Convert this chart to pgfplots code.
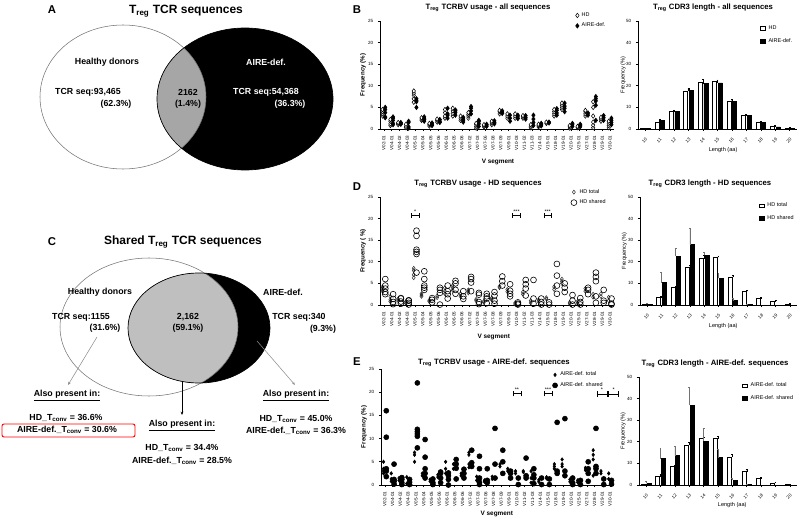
\documentclass[border=0pt]{standalone}
\usepackage{fontspec}
\setmainfont{Liberation Sans}
\usepackage{pgfplots}
\pgfplotsset{compat=1.18}
\usetikzlibrary{arrows.meta}
\newcommand{\fs}[1]{\fontsize{#1}{#1}\selectfont}
\pgfplotsset{
  common/.style={scale only axis, clip=false,
    axis x line*=bottom, axis y line*=left, axis line style={line width=0.6pt,-},
    tick align=outside, major tick length=1.6pt, tick style={black,line width=0.45pt},
    /pgf/number format/assume math mode=true,
    tick label style={font=\fs{3.4}}, ymin=0},
  scat/.style={common, width=175.5pt, height=81pt, xmin=-0.5, xmax=29.5, ymax=25,
    ytick={0,5,...,25}, xtick={0,...,29},
    xticklabels={V02-01,V04-01,V04-02,V04-03,V05-01,V05-04,V05-05,V05-06,V06-01,V06-05,V06-06,V07-02,V07-03,V07-06,V07-08,V07-09,V09-01,V10-03,V11-02,V11-03,V14-01,V15-01,V18-01,V19-01,V20-01,V25-01,V27-01,V28-01,V29-01,V30-01},
    xticklabel style={rotate=90, anchor=east, font=\fs{3.4}},
    ylabel style={font=\bfseries\fs{4.6}, anchor=center},
    xlabel style={font=\bfseries\fs{4.8}, anchor=center},
    legend style={draw=none, fill=none, font=\fs{4.1}, inner sep=0pt, row sep=-0.6pt, cells={anchor=west}},
    legend image code/.code={\draw[mark repeat=2,mark phase=2,##1] plot coordinates {(0cm,0cm)(0.1cm,0cm)(0.2cm,0cm)};}},
  barax/.style={common, height=81pt, xmin=9.5, xmax=20.5, ymax=50,
    ytick={0,10,...,50}, xtick={10,...,20},
    xticklabel style={rotate=45, anchor=north east, font=\fs{3.4}},
    ylabel style={font=\fs{4.2}, anchor=center}, xlabel style={font=\fs{4.2}, anchor=center},
    legend style={draw=none, fill=none, font=\fs{4.1}, inner sep=0pt, row sep=1.2pt, cells={anchor=west}},
    legend image code/.code={\draw[##1] (0pt,-1.3pt) rectangle (4pt,1.3pt);}},
  hdbar/.style={ybar, bar width=3pt, bar shift=-2.1pt, fill=white, draw=black, line width=0.5pt,
    error bars/y dir=plus, error bars/y explicit, error bars/error bar style={line width=0.35pt, black},
    error bars/error mark options={rotate=90, mark size=0.7pt, line width=0.35pt}},
  shbar/.style={ybar, bar width=3pt, bar shift=2.1pt, fill=black, draw=black, line width=0.5pt,
    error bars/y dir=plus, error bars/y explicit, error bars/error bar style={line width=0.35pt, black!55},
    error bars/error mark options={rotate=90, mark size=0.7pt, line width=0.35pt, black!55}},
  aibar/.style={ybar, bar width=3pt, bar shift=2.1pt, fill=black, draw=black, line width=0.5pt,
    error bars/y dir=plus, error bars/y explicit, error bars/error bar style={line width=0.35pt, black},
    error bars/error mark options={rotate=90, mark size=0.7pt, line width=0.35pt, black}},
}
\begin{document}
\begin{tikzpicture}
\useasboundingbox (0pt,0pt) rectangle (600pt,390.75pt);

% ---------------- overlay: Venn diagrams, titles, letters -----------------
\begin{axis}[at={(0pt,0pt)}, anchor=south west, scale only axis, width=600pt, height=390.75pt,
  xmin=0, xmax=800, ymin=0, ymax=521, y dir=reverse, hide axis, clip=false]
% Venn A
\fill[black] (axis cs:245,99) ellipse[x radius=66pt, y radius=53.25pt];
\begin{scope}
\clip (axis cs:123,97) ellipse[x radius=62.25pt, y radius=54pt];
\fill[black!35] (axis cs:245,99) ellipse[x radius=66pt, y radius=53.25pt];
\end{scope}
\draw[black!55, line width=0.4pt] (axis cs:123,97) ellipse[x radius=62.25pt, y radius=54pt];
\draw[black, line width=0.5pt] (axis cs:245,99) ellipse[x radius=66pt, y radius=53.25pt];
% Venn C
\fill[black] (axis cs:199,328) ellipse[x radius=53.25pt, y radius=41.25pt];
\begin{scope}
\clip (axis cs:149,327) ellipse[x radius=66.75pt, y radius=51.75pt];
\fill[black!25] (axis cs:199,328) ellipse[x radius=53.25pt, y radius=41.25pt];
\end{scope}
\draw[black!55, line width=0.4pt] (axis cs:149,327) ellipse[x radius=66.75pt, y radius=51.75pt];
\draw[black, line width=0.5pt] (axis cs:199,328) ellipse[x radius=53.25pt, y radius=41.25pt];

\begin{scope}[every node/.style={font=\bfseries\fs{6.6}, inner sep=0pt}]
\node at (axis cs:52,10) {\fs{8.5}A};
\node at (axis cs:186,11) {\fs{9}T\textsubscript{reg} TCR sequences};
\node at (axis cs:107,62) {Healthy donors};
\node at (axis cs:88,92) {TCR seq:93,465};
\node at (axis cs:116,104) {(62.3\%)};
\node at (axis cs:188,92) {2162};
\node at (axis cs:188,104) {(1.4\%)};
\node[white] at (axis cs:266,62) {AIRE-def.};
\node[white] at (axis cs:266,92) {TCR seq:54,368};
\node[white] at (axis cs:290,104) {(36.3\%)};

\node at (axis cs:52,242) {\fs{8.5}C};
\node at (axis cs:183,242) {\fs{9}Shared T\textsubscript{reg} TCR sequences};
\node at (axis cs:100,292) {Healthy donors};
\node at (axis cs:81,317) {TCR seq:1155};
\node at (axis cs:105,328) {(31.6\%)};
\node at (axis cs:188,317) {2,162};
\node at (axis cs:188,328) {(59.1\%)};
\node at (axis cs:283,292) {AIRE-def.};
\node at (axis cs:299,317) {TCR seq:340};
\node at (axis cs:323,329) {(9.3\%)};

\node at (axis cs:67,396) {\underline{Also present in:}};
\node at (axis cs:66,418) {HD\_T\textsubscript{conv} = 36.6\%};
\node at (axis cs:67,430) {AIRE-def.\_T\textsubscript{conv} = 30.6\%};
\node at (axis cs:182,426) {\underline{Also present in:}};
\node at (axis cs:182,448) {HD\_T\textsubscript{conv} = 34.4\%};
\node at (axis cs:182,461) {AIRE-def.\_T\textsubscript{conv} = 28.5\%};
\node at (axis cs:296,396) {\underline{Also present in:}};
\node at (axis cs:296,419) {HD\_T\textsubscript{conv} = 45.0\%};
\node at (axis cs:296,431) {AIRE-def.\_T\textsubscript{conv} = 36.3\%};

\node at (axis cs:357,10) {\fs{8.5}B};
\node at (axis cs:357,187) {\fs{8.5}D};
\node at (axis cs:357,362) {\fs{8.5}E};

\node at (axis cs:488,8) {\fs{5.8}T\textsubscript{reg} TCRBV usage - all sequences};
\node at (axis cs:713,8) {\fs{5.8}T\textsubscript{reg} CDR3 length - all  sequences};
\node at (axis cs:478,184) {\fs{5.8}T\textsubscript{reg} TCRBV usage - HD sequences};
\node at (axis cs:710,184) {\fs{5.8}T\textsubscript{reg} CDR3 length - HD sequences};
\node at (axis cs:494,363) {\fs{5.8}T\textsubscript{reg} TCRBV usage - AIRE-def. sequences};
\node at (axis cs:715,364) {\fs{5.8}T\textsubscript{reg} CDR3 length - AIRE-def. sequences};
\end{scope}
\draw[red, line width=0.7pt, rounded corners=1.5pt] (axis cs:2,424) rectangle (axis cs:135,437);
\draw[black!45, line width=0.4pt, -{Stealth[length=2.5pt,width=2pt]}] (axis cs:97,337) -- (axis cs:68,385);
\draw[black, line width=0.5pt, -{Stealth[length=2.5pt,width=2pt]}] (axis cs:182,382) -- (axis cs:182,415);
\draw[black!45, line width=0.4pt, -{Stealth[length=2.5pt,width=2pt]}] (axis cs:257,341) -- (axis cs:295,385);
\end{axis}

% ---------------- B left -----------------
\begin{axis}[scat, at={(285pt,294pt)}, anchor=south west,
  ylabel={Frequency (\%)}, ylabel style={at={(axis description cs:-0.073,0.5)}},
  xlabel={V segment}, xlabel style={at={(axis description cs:0.504,-0.306)}},
  legend style={at={(0.835,1.105)}, anchor=north west}]
\addplot[only marks, mark=diamond*, mark size=1.7pt, mark options={fill=white, draw=black, line width=0.4pt}, x filter/.expression={x-0.17}] coordinates {
(0,3)(0,3.5)(0,4)(0,4.5)
(1,0.8)(1,1.2)(1,1.8)(1,2.2)
(2,1)(2,1.3)(2,1.5)
(3,0.3)(3,0.6)(3,1.1)
(4,6.2)(4,7)(4,7.8)(4,8.3)(4,8.8)
(5,2)(5,2.3)(5,2.6)
(6,0.7)(6,1)(6,1.3)
(7,1.6)(7,2)(7,2.3)
(8,2.5)(8,3)(8,3.8)(8,4.5)
(9,3)(9,3.6)(9,4.2)(9,4.8)
(10,2)(10,2.5)(10,3)
(11,2.5)(11,3)(11,3.4)(11,3.8)
(12,0.2)(12,0.6)(12,1)(12,1.3)
(13,0.5)(13,0.8)(13,1)
(14,1)(14,1.4)(14,1.8)
(15,3.5)(15,4)(15,4.3)
(16,2.5)(16,3)(16,3.5)
(17,2.5)(17,3)(17,3.5)
(18,2.5)(18,2.9)(18,3.1)
(19,0.3)(19,0.6)(19,1)
(20,0.5)(20,0.8)(20,1.1)
(21,1.3)(21,1.6)
(22,3)(22,3.5)(22,4)(22,4.5)
(23,4.5)(23,5)(23,5.5)(23,6)
(24,0.2)(24,0.5)(24,0.8)
(25,0.3)(25,0.6)
(26,3)(26,3.5)(26,4)(26,4.3)
(27,0.3)(27,0.9)(27,1.6)(27,3)(27,5)(27,6.3)
(28,1.8)(28,2.3)(28,2.7)
(29,0.3)(29,0.8)(29,1.3)(29,1.8)};
\addlegendentry{HD}
\addplot[only marks, mark=diamond*, mark size=1.7pt, mark options={fill=black, draw=black}, x filter/.expression={x+0.17}] coordinates {
(0,2.6)(0,2.8)(0,3.8)(0,4.5)(0,5)
(1,1)(1,1.3)(1,2)(1,2.5)(1,2.8)
(2,1.1)(2,1.3)(2,1.5)
(3,0.2)(3,0.5)(3,1.5)(3,1.8)
(4,5)(4,6.3)(4,6.6)(4,7)
(5,1.8)(5,2.2)(5,2.5)(5,2.8)
(6,0.8)(6,1.1)(6,1.4)
(7,1.5)(7,1.8)(7,2.2)
(8,2.5)(8,3.2)(8,3.5)(8,4.8)
(9,3.2)(9,3.8)(9,4.2)(9,4.4)
(10,1.6)(10,2)(10,2.3)(10,2.7)
(11,3.5)(11,4.2)(11,4.8)(11,5.2)
(12,0.6)(12,1.2)(12,1.7)(12,2)
(13,0.6)(13,0.9)(13,1.1)
(14,1.2)(14,1.5)(14,1.9)
(15,3.6)(15,3.9)(15,4.2)
(16,1.8)(16,2.5)(16,3.2)
(17,2.4)(17,2.8)(17,3.2)
(18,2.3)(18,2.7)(18,3.1)
(19,0.8)(19,1.5)(19,2.3)(19,3.2)
(20,0.7)(20,1)(20,1.3)
(21,1.4)(21,1.6)
(22,3.2)(22,3.7)(22,4.3)(22,4.7)
(23,4)(23,4.8)(23,5.3)(23,6)
(24,0.6)(24,1)(24,1.3)
(25,0.5)(25,0.8)(25,1.1)
(26,3.2)(26,3.7)
(27,2)(27,5.5)(27,6.5)(27,7)(27,7.5)
(28,2)(28,2.6)(28,3.1)
(29,1)(29,1.5)(29,2)(29,2.5)};
\addlegendentry{AIRE-def.}
\end{axis}

% ---------------- B right -----------------
\begin{axis}[barax, width=119.25pt, at={(478.5pt,294pt)}, anchor=south west,
  ylabel={Frequency (\%)}, ylabel style={at={(axis description cs:-0.094,0.5)}},
  xlabel={Length (aa)}, xlabel style={at={(axis description cs:0.535,-0.194)}},
  legend style={at={(0.765,0.985)}, anchor=north west}]
\addplot[hdbar] coordinates {(10,0.3)+-(0,0.1) (11,3.3)+-(0,0.4) (12,8)+-(0,0.5) (13,17.5)+-(0,0.7) (14,21.5)+-(0,1.5) (15,22)+-(0,0.8) (16,13)+-(0,1) (17,6.3)+-(0,0.6) (18,3)+-(0,0.5) (19,1.3)+-(0,0.6) (20,0.5)+-(0,0.2)};
\addlegendentry{HD}
\addplot[aibar] coordinates {(10,0.3)+-(0,0.1) (11,3.8)+-(0,0.8) (12,8.3)+-(0,0.6) (13,18)+-(0,0.8) (14,21)+-(0,0.6) (15,21.3)+-(0,0.6) (16,12.8)+-(0,0.8) (17,6.2)+-(0,0.5) (18,3)+-(0,0.4) (19,1)+-(0,0.3) (20,0.3)+-(0,0.1)};
\addlegendentry{AIRE-def.}
\end{axis}

% ---------------- D left -----------------
\begin{axis}[scat, at={(285pt,162pt)}, anchor=south west,
  ylabel={Frequency ( \%)}, ylabel style={at={(axis description cs:-0.073,0.5)}},
  xlabel={V segment}, xlabel style={at={(axis description cs:0.486,-0.296)}},
  legend style={at={(0.815,1.1)}, anchor=north west}]
\addplot[only marks, mark=diamond, mark size=1.5pt, mark options={draw=black!80, line width=0.4pt}, x filter/.expression={x-0.18}] coordinates {
(0,3.2)(0,3.8)(0,4.2)
(1,0.8)(1,1.2)(1,2)
(2,1)(2,1.4)
(3,0.4)(3,0.8)
(4,6.3)(4,7)(4,8)(4,8.5)
(5,2)(5,2.3)(5,2.6)
(6,0.8)(6,1.1)
(7,1.7)(7,2.1)
(8,2.6)(8,3.2)(8,4)
(9,3.4)(9,4)(9,4.5)
(10,2)(10,2.6)
(11,2.8)(11,3.2)(11,3.5)
(12,1)(12,1.3)
(13,0.6)(13,0.9)
(14,1.2)(14,1.6)
(15,4)(15,4.3)
(16,3.1)(16,3.6)
(17,0.2)(17,0.5)
(18,2.5)(18,3)
(19,0.5)(19,1)
(20,0.8)(20,1.2)
(21,1.4)(21,1.7)
(22,3.6)(22,4.2)
(23,5)(23,5.5)(23,6)
(24,0.3)(24,0.6)
(25,0.4)(25,0.8)
(26,3.2)(26,3.8)
(27,1.8)(27,2.5)
(28,2)(28,2.6)
(29,1)(29,1.8)};
\addlegendentry{HD total}
\addplot[only marks, mark=o, mark size=2.2pt, mark options={draw=black, line width=0.45pt}, x filter/.expression={x+0.18}] coordinates {
(0,2.5)(0,3)(0,3.8)(0,4.5)(0,6)
(1,0.2)(1,0.7)(1,1.4)(1,2.5)
(2,0.3)(2,0.8)(2,1.5)(2,1.6)
(3,0.1)(3,0.5)(3,1)(3,1.1)
(4,7.5)(4,11.8)(4,12.3)(4,12.8)(4,16)(4,17.2)
(5,3.5)(5,4)(5,4.5)(5,6)(5,7.8)
(6,0.6)(6,1.2)(6,1.6)
(7,0.1)(7,2.8)(7,3.5)(7,4)
(8,1.5)(8,2.5)(8,3.2)(8,4.5)
(9,2.6)(9,3.5)(9,5)(9,5.6)
(10,1.4)(10,2)(10,3.2)
(11,3.2)(11,5.2)(11,6)(11,6.5)
(12,0.2)(12,0.7)(12,2.4)(12,2.8)
(13,0.4)(13,1.5)(13,2)(13,2.6)
(14,0.3)(14,1)(14,2.2)(14,3)
(15,4.5)(15,5.5)(15,6.6)
(16,2)(16,2.6)(16,3.3)(16,4.8)
(17,0.1)(17,0.3)(17,0.6)
(18,2.2)(18,3.8)(18,4.8)(18,5.8)
(19,0.3)(19,1.5)(19,5.8)
(20,0.1)(20,0.7)(20,1.5)
(21,0.1)(21,0.6)
(22,2.6)(22,4.5)(22,6.8)(22,9.5)
(23,3)(23,4)(23,5)
(24,0.1)(24,1)(24,2.3)
(25,0.1)(25,0.7)(25,1.6)
(26,2.5)(26,3.5)(26,4)
(27,0.5)(27,2)(27,5.5)(27,6.5)(27,7.5)
(28,0.5)(28,1)(28,3.5)
(29,0.1)(29,0.3)(29,1.5)};
\addlegendentry{HD shared}
\draw[line width=0.4pt] (axis cs:3.5,20.8) -- (axis cs:4.5,20.8) (axis cs:3.5,20.2) -- (axis cs:3.5,21.4) (axis cs:4.5,20.2) -- (axis cs:4.5,21.4);
\node[font=\fs{4}, inner sep=0pt] at (axis cs:4,21.7) {*};
\draw[line width=0.4pt] (axis cs:16.5,20.8) -- (axis cs:17.5,20.8) (axis cs:16.5,20.2) -- (axis cs:16.5,21.4) (axis cs:17.5,20.2) -- (axis cs:17.5,21.4);
\node[font=\fs{4}, inner sep=0pt] at (axis cs:17,21.7) {***};
\draw[line width=0.4pt] (axis cs:20.5,20.8) -- (axis cs:21.5,20.8) (axis cs:20.5,20.2) -- (axis cs:20.5,21.4) (axis cs:21.5,20.2) -- (axis cs:21.5,21.4);
\node[font=\fs{4}, inner sep=0pt] at (axis cs:21,21.7) {***};
\end{axis}

% ---------------- D right -----------------
\begin{axis}[barax, width=117.75pt, at={(480pt,162pt)}, anchor=south west,
  ylabel={Frequency (\%)}, ylabel style={at={(axis description cs:-0.1,0.5)}},
  xlabel={Length (aa)}, xlabel style={at={(axis description cs:0.53,-0.194)}},
  legend style={at={(0.755,0.975)}, anchor=north west}]
\addplot[hdbar] coordinates {(10,0.3)+-(0,0.1) (11,3.5)+-(0,0.4) (12,8.1)+-(0,0.5) (13,17.5)+-(0,0.7) (14,21.5)+-(0,1.5) (15,22)+-(0,0.8) (16,13)+-(0,1) (17,6.3)+-(0,0.6) (18,3)+-(0,0.5) (19,1.5)+-(0,0.6) (20,0.4)+-(0,0.2)};
\addlegendentry{HD total}
\addplot[shbar] coordinates {(10,0.4)+-(0,0.4) (11,10.3)+-(0,5) (12,22.5)+-(0,4) (13,28)+-(0,7.5) (14,23)+-(0,1.5) (15,12.3)+-(0,2.5) (16,2)+-(0,1.2) (17,0.2)+-(0,0.1)};
\addlegendentry{HD shared}
\end{axis}

% ---------------- E left -----------------
\begin{axis}[scat, height=87pt, width=174.75pt, at={(285.75pt,27pt)}, anchor=south west,
  ylabel={Frequency (\%)}, ylabel style={at={(axis description cs:-0.073,0.5)}},
  xlabel={V segment}, xlabel style={at={(axis description cs:0.497,-0.25)}},
  legend style={at={(0.735,1.0)}, anchor=north west}]
\addplot[only marks, mark=diamond*, mark size=1.3pt, mark options={fill=black, draw=black}, x filter/.expression={x-0.18}] coordinates {
(0,2.5)(0,3)(0,3.5)(0,5)
(1,0.8)(1,1.3)(1,2.5)
(2,1)(2,1.5)
(3,0.3)(3,1.7)
(4,5)(4,6.5)(4,7)
(5,2)(5,2.5)
(6,0.8)(6,1.2)
(7,1.7)(7,2.2)
(8,2.5)(8,3.5)(8,5)
(9,3.5)(9,4.5)
(10,2)(10,2.5)
(11,3.8)(11,4.5)(11,6.5)(11,7)
(12,1)(12,1.8)
(13,0.7)(13,1)
(14,1.3)(14,1.8)
(15,4)(15,4.5)
(16,3)(16,3.5)
(17,2.5)(17,3)
(18,2.8)(18,3)
(19,0.5)(19,1.5)(19,3)
(20,0.7)(20,1.1)
(21,1.4)(21,1.7)
(22,3.5)(22,4)(22,4.5)
(23,4)(23,4.5)(23,5.5)
(24,0.7)(24,1.2)
(25,0.6)(25,1)
(26,3.2)(26,3.7)
(27,2)(27,5.5)(27,6.5)(27,7.5)
(28,2.5)(28,3)
(29,1.3)(29,2.5)};
\addlegendentry{AIRE-def. total}
\addplot[only marks, mark=*, mark size=1.9pt, mark options={fill=black, draw=black}, x filter/.expression={x+0.18}] coordinates {
(0,1.8)(0,3)(0,3.5)(0,10.3)(0,16)
(1,0.2)(1,0.8)(1,1.2)(1,4.5)
(2,0.1)(2,0.5)(2,1.2)(2,1.6)
(3,0.1)(3,0.6)(3,1.2)
(4,8)(4,10.5)(4,11)(4,11.5)(4,12)(4,22)
(5,1.5)(5,2.5)(5,3.5)(5,6)(5,9.8)
(6,0.1)(6,0.5)(6,1.3)
(7,0.5)(7,1.5)(7,2.5)(7,2.8)
(8,0)(8,1.2)(8,2)(8,2.6)
(9,1.3)(9,3.6)(9,4.5)(9,5.5)
(10,1.5)(10,2.5)(10,3.4)
(11,4)(11,4.8)(11,7.5)
(12,0.1)(12,0.6)(12,1.5)(12,3.5)(12,6.2)
(13,0.5)(13,1)(13,3.5)
(14,1.5)(14,4.5)(14,12.2)
(15,2.5)(15,5)(15,7.5)
(16,1.5)(16,2.5)(16,3)
(17,0.1)(17,1.5)
(18,1.5)(18,2)(18,5.8)
(19,0.3)(19,1.5)(19,2.2)(19,3.5)
(20,0.1)(20,1.5)
(21,0.1)(21,1.3)
(22,2.5)(22,3)(22,13.5)
(23,2)(23,3)(23,14.3)
(24,0.1)(24,0.5)(24,1.5)
(25,0.1)(25,1)
(26,0.8)(26,2.5)(26,3.5)(26,5)
(27,2.5)(27,3.5)(27,4)(27,12.2)
(28,0.1)(28,1.3)
(29,0.2)(29,1)};
\addlegendentry{AIRE-def. shared}
\draw[line width=0.4pt] (axis cs:16.5,19.7) -- (axis cs:17.5,19.7) (axis cs:16.5,19.1) -- (axis cs:16.5,20.3) (axis cs:17.5,19.1) -- (axis cs:17.5,20.3);
\node[font=\fs{4}, inner sep=0pt] at (axis cs:17,20.6) {**};
\draw[line width=0.4pt] (axis cs:20.5,19.7) -- (axis cs:21.5,19.7) (axis cs:20.5,19.1) -- (axis cs:20.5,20.3) (axis cs:21.5,19.1) -- (axis cs:21.5,20.3);
\node[font=\fs{4}, inner sep=0pt] at (axis cs:21,20.6) {***};
\draw[line width=0.4pt] (axis cs:27.3,19.6) -- (axis cs:28.6,19.6) (axis cs:27.3,19.0) -- (axis cs:27.3,20.2) (axis cs:28.6,19.0) -- (axis cs:28.6,20.2);
\node[font=\fs{4}, inner sep=0pt] at (axis cs:27.95,20.5) {*};
\draw[line width=0.4pt] (axis cs:28.8,19.6) -- (axis cs:30.1,19.6) (axis cs:28.8,19.0) -- (axis cs:28.8,20.2) (axis cs:30.1,19.0) -- (axis cs:30.1,20.2);
\node[font=\fs{4}, inner sep=0pt] at (axis cs:29.45,20.5) {*};
\end{axis}

% ---------------- E right -----------------
\begin{axis}[barax, width=118.5pt, at={(479.25pt,27pt)}, anchor=south west,
  ylabel={Frequency (\%)}, ylabel style={at={(axis description cs:-0.1,0.5)}},
  xlabel={Length (aa)}, xlabel style={at={(axis description cs:0.59,-0.185)}},
  legend style={at={(0.65,0.975)}, anchor=north west}]
\addplot[hdbar] coordinates {(10,0.3)+-(0,0.1) (11,3.8)+-(0,1) (12,8.5)+-(0,0.6) (13,18.3)+-(0,1.7) (14,21.5)+-(0,0.5) (15,21.5)+-(0,1) (16,13)+-(0,1.2) (17,6.2)+-(0,1) (18,3)+-(0,0.6) (19,1)+-(0,0.4) (20,0.3)+-(0,0.1)};
\addlegendentry{AIRE-def. total}
\addplot[shbar] coordinates {(10,0.7)+-(0,0.9) (11,12.2)+-(0,5) (12,13.6)+-(0,4.5) (13,37)+-(0,8.3) (14,20.3)+-(0,6) (15,12.7)+-(0,4) (16,2.3)+-(0,1) (17,0.2)+-(0,0.1)};
\addlegendentry{AIRE-def. shared}
\end{axis}
\end{tikzpicture}
\end{document}
